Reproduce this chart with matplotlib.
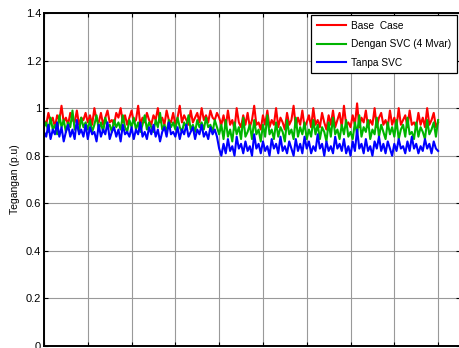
import numpy as np
import matplotlib
matplotlib.use("Agg")
import matplotlib.pyplot as plt

plt.rcParams['font.family'] = ['Liberation Sans', 'DejaVu Sans']

# sampel waktu (satuan sumbu x, label tidak tampak)
t = np.arange(181) * 0.05

base_case = [
    0.95, 0.93, 0.98, 0.94, 0.96, 0.92, 0.97, 0.95, 1.01, 0.94, 0.96, 0.93, 0.98, 0.95, 0.94, 0.99, 0.93, 0.96, 0.95, 0.98,
    0.94, 0.97, 0.93, 1.00, 0.95, 0.94, 0.98, 0.93, 0.96, 0.99, 0.94, 0.95, 0.93, 0.98, 0.96, 1.00, 0.94, 0.97, 0.93, 0.96,
    0.99, 0.94, 0.95, 1.01, 0.93, 0.96, 0.94, 0.98, 0.95, 0.93, 0.97, 0.95, 1.00, 0.94, 0.96, 0.93, 0.99, 0.95, 0.94, 0.98,
    0.93, 0.96, 1.01, 0.94, 0.97, 0.95, 0.93, 0.99, 0.94, 0.96, 0.98, 0.94, 1.00, 0.95, 0.97, 0.94, 0.99, 0.96, 0.95, 0.98,
    0.96, 0.93, 0.97, 0.92, 0.99, 0.93, 0.95, 0.91, 1.00, 0.94, 0.92, 0.97, 0.93, 0.98, 0.92, 0.95, 1.01, 0.93, 0.94, 0.91,
    0.97, 0.93, 0.99, 0.92, 0.95, 0.93, 1.00, 0.92, 0.96, 0.94, 0.91, 0.98, 0.93, 0.95, 1.01, 0.92, 0.96, 0.93, 0.99, 0.92,
    0.94, 0.97, 0.92, 1.00, 0.93, 0.95, 0.92, 0.98, 0.94, 0.91, 0.97, 0.93, 0.99, 0.92, 0.95, 0.98, 0.92, 1.01, 0.93, 0.94,
    0.92, 0.97, 0.93, 1.02, 0.92, 0.96, 0.94, 0.99, 0.92, 0.95, 0.93, 1.00, 0.92, 0.96, 0.98, 0.93, 0.95, 0.92, 0.99, 0.93,
    0.96, 0.92, 1.00, 0.93, 0.95, 0.97, 0.92, 0.99, 0.93, 0.94, 0.92, 0.98, 0.93, 0.96, 0.92, 1.00, 0.93, 0.95, 0.98, 0.92, 0.94,
]

dengan_svc = [
    0.92, 0.94, 0.90, 0.96, 0.91, 0.93, 0.89, 0.97, 0.92, 0.95, 0.90, 0.94, 0.92, 0.99, 0.91, 0.93, 0.90, 0.96, 0.92, 0.94,
    0.91, 0.95, 0.90, 0.93, 0.97, 0.91, 0.94, 0.90, 0.96, 0.92, 0.93, 0.90, 0.95, 0.92, 0.94, 0.91, 0.97, 0.92, 0.90, 0.95,
    0.92, 0.96, 0.91, 0.94, 0.90, 0.93, 0.97, 0.91, 0.94, 0.92, 0.90, 0.95, 0.92, 0.98, 0.91, 0.93, 0.90, 0.95, 0.92, 0.94,
    0.91, 0.96, 0.92, 0.90, 0.94, 0.92, 0.97, 0.91, 0.93, 0.90, 0.95, 0.92, 0.94, 0.91, 0.96, 0.92, 0.93, 0.90, 0.95, 0.92,
    0.89, 0.93, 0.87, 0.95, 0.88, 0.91, 0.86, 0.94, 0.89, 0.92, 0.87, 0.96, 0.88, 0.90, 0.93, 0.87, 0.95, 0.89, 0.91, 0.86,
    0.93, 0.88, 0.97, 0.89, 0.91, 0.87, 0.94, 0.88, 0.92, 0.90, 0.86, 0.95, 0.89, 0.91, 0.87, 0.96, 0.88, 0.92, 0.89, 0.94,
    0.87, 0.91, 0.88, 0.95, 0.89, 0.93, 0.87, 0.92, 0.90, 0.86, 0.94, 0.88, 0.96, 0.89, 0.91, 0.87, 0.93, 0.89, 0.95, 0.88,
    0.90, 0.87, 0.94, 0.89, 0.97, 0.88, 0.92, 0.90, 0.95, 0.87, 0.91, 0.89, 0.96, 0.88, 0.93, 0.90, 0.87, 0.94, 0.89, 0.92,
    0.88, 0.95, 0.87, 0.91, 0.93, 0.88, 0.96, 0.89, 0.90, 0.87, 0.94, 0.88, 0.92, 0.90, 0.87, 0.95, 0.89, 0.91, 0.94, 0.88, 0.95,
]

tanpa_svc = [
    0.90, 0.88, 0.93, 0.87, 0.91, 0.89, 0.94, 0.88, 0.92, 0.86, 0.90, 0.93, 0.88, 0.91, 0.87, 0.95, 0.89, 0.91, 0.88, 0.93,
    0.87, 0.92, 0.89, 0.90, 0.86, 0.93, 0.88, 0.91, 0.89, 0.94, 0.87, 0.90, 0.92, 0.88, 0.91, 0.86, 0.93, 0.89, 0.90, 0.88,
    0.92, 0.87, 0.91, 0.89, 0.94, 0.88, 0.90, 0.87, 0.92, 0.89, 0.93, 0.88, 0.91, 0.86, 0.90, 0.92, 0.88, 0.94, 0.89, 0.90,
    0.88, 0.92, 0.87, 0.91, 0.89, 0.93, 0.88, 0.90, 0.92, 0.87, 0.91, 0.89, 0.93, 0.88, 0.90, 0.87, 0.92, 0.89, 0.91, 0.88,
    0.83, 0.80, 0.85, 0.81, 0.87, 0.82, 0.84, 0.80, 0.88, 0.83, 0.85, 0.81, 0.86, 0.82, 0.84, 0.80, 0.89, 0.83, 0.85, 0.81,
    0.86, 0.82, 0.84, 0.80, 0.87, 0.83, 0.85, 0.81, 0.88, 0.82, 0.84, 0.81, 0.86, 0.83, 0.80, 0.87, 0.82, 0.85, 0.81, 0.88,
    0.83, 0.86, 0.81, 0.84, 0.82, 0.89, 0.83, 0.85, 0.80, 0.86, 0.82, 0.84, 0.81, 0.88, 0.83, 0.85, 0.82, 0.87, 0.81, 0.84,
    0.80, 0.86, 0.82, 0.91, 0.83, 0.85, 0.81, 0.87, 0.82, 0.84, 0.80, 0.86, 0.83, 0.88, 0.82, 0.85, 0.81, 0.86, 0.83, 0.80,
    0.85, 0.82, 0.87, 0.83, 0.84, 0.81, 0.86, 0.82, 0.88, 0.83, 0.85, 0.81, 0.84, 0.82, 0.87, 0.83, 0.85, 0.81, 0.86, 0.83, 0.82,
]

labels = ["Base  Case", "Dengan SVC (4 Mvar)", "Tanpa SVC"]
colors = ["#ff0000", "#00b400", "#0000ff"]
yticks = [0, 0.2, 0.4, 0.6, 0.8, 1, 1.2, 1.4]
ytick_labels = ["0", "0.2", "0.4", "0.6", "0.8", "1", "1.2", "1.4"]

fig = plt.figure(figsize=(4.59, 3.48), dpi=100)
ax = fig.add_axes([44 / 459, 2 / 348, 416 / 459, 333 / 348])

for y, lab, c in zip([base_case, dengan_svc, tanpa_svc], labels, colors):
    ax.plot(t, y, color=c, lw=1.5, label=lab)

ax.set_xlim(0, 9.5)
ax.set_ylim(0, 1.4)
ax.set_xticks(range(10))
ax.set_yticks(yticks)
ax.set_yticklabels(ytick_labels)
ax.tick_params(direction='in', length=3, width=0.8, top=True, right=True,
               labelbottom=False, labelsize=8, pad=2)
ax.grid(True, color='0.6', linestyle='-', linewidth=0.8)
for s in ax.spines.values():
    s.set_linewidth(1.4)
ax.set_ylabel("Tegangan (p.u)", fontsize=7.5, labelpad=4)

leg = ax.legend(loc='upper right', bbox_to_anchor=(457 / 459, 1 - 15 / 348),
                bbox_transform=fig.transFigure, borderaxespad=0, fontsize=7.3,
                fancybox=False, framealpha=1, edgecolor='black',
                handlelength=2.9, labelspacing=0.85, borderpad=0.55,
                handletextpad=0.5)
leg.get_frame().set_linewidth(0.9)

fig.savefig("out.png", dpi=100)
